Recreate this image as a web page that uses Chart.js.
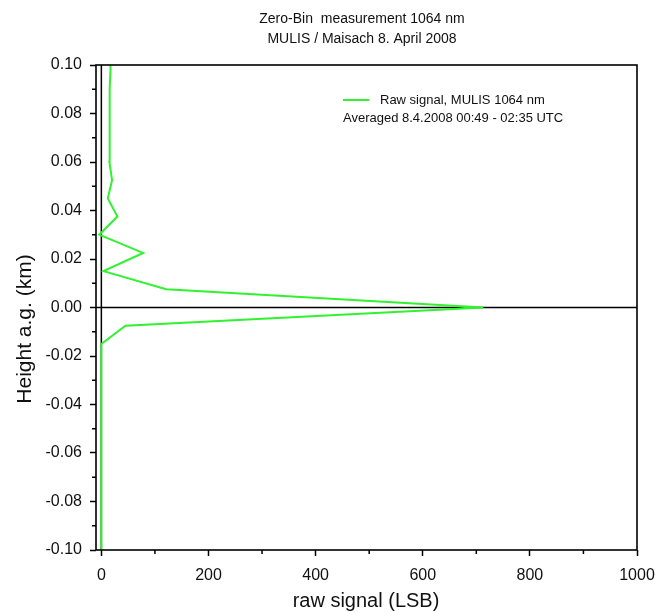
<!DOCTYPE html>
<html>
<head>
<meta charset="utf-8">
<script src="https://cdn.jsdelivr.net/npm/chart.js@4"></script>
<style>
  body { margin: 0; background: #fff; }
  #wrap { width: 656px; height: 612px; }
</style>
</head>
<body>
<div id="wrap"><canvas id="zeroBinChart"></canvas></div>
<script>
// Zero-Bin measurement, raw signal vs height (7.5 m bins)
const heights = [-0.105, -0.0975, -0.09, -0.0825, -0.075, -0.0675, -0.06, -0.0525, -0.045, -0.0375,
  -0.03, -0.0225, -0.015, -0.0075, 0, 0.0075, 0.015, 0.0225, 0.03, 0.0375,
  0.045, 0.0525, 0.06, 0.0675, 0.075, 0.0825, 0.09, 0.0975, 0.105];
const rawSignal = [0, 0, 0, 0, 0, 0, 0, 0, 0, 0,
  0, 0, 0, 45, 713, 121, 4, 78, -4, 30,
  12, 20, 15, 15, 15, 16, 16, 17, 17];

const xTicks = [0, 200, 400, 600, 800, 1000];
const xTickLabels = ["0", "200", "400", "600", "800", "1000"];
const xMinorTicks = [100, 300, 500, 700, 900];
const yTicks = [-0.10, -0.08, -0.06, -0.04, -0.02, 0.00, 0.02, 0.04, 0.06, 0.08, 0.10];
const yTickLabels = ["-0.10", "-0.08", "-0.06", "-0.04", "-0.02", "0.00", "0.02", "0.04", "0.06", "0.08", "0.10"];
const yMinorTicks = [-0.09, -0.07, -0.05, -0.03, -0.01, 0.01, 0.03, 0.05, 0.07, 0.09];

const titleLines = ["Zero-Bin  measurement 1064 nm", "MULIS / Maisach 8. April 2008"];
const seriesLabel = "Raw signal, MULIS 1064 nm";
const averagedNote = "Averaged 8.4.2008 00:49 - 02:35 UTC";
const xTitle = "raw signal (LSB)";
const yTitle = "Height a.g. (km)";

const FONT = "'Liberation Sans', Arial, sans-serif";
const GREEN = "#30f230";

const points = heights.map((h, i) => ({x: rawSignal[i], y: h}));

// frame, zero lines, minor ticks, titles and the little legend
const decorations = {
  id: "decorations",
  beforeDatasetsDraw(chart) {
    const {ctx, chartArea: a, scales} = chart;
    ctx.save();
    ctx.strokeStyle = "#000";
    ctx.lineWidth = 1.5;
    const y0 = scales.y.getPixelForValue(0);
    const x0 = scales.x.getPixelForValue(0);
    ctx.beginPath();
    ctx.moveTo(a.left, y0); ctx.lineTo(a.right, y0);
    ctx.moveTo(x0, a.top); ctx.lineTo(x0, a.bottom);
    ctx.stroke();
    ctx.restore();
  },
  afterDraw(chart) {
    const {ctx, chartArea: a, scales} = chart;
    ctx.save();
    ctx.strokeStyle = "#000";
    ctx.lineWidth = 1.6;
    ctx.strokeRect(a.left, a.top, a.right - a.left, a.bottom - a.top);

    ctx.lineWidth = 1.5;
    ctx.beginPath();
    xMinorTicks.forEach(v => {
      const px = scales.x.getPixelForValue(v);
      ctx.moveTo(px, a.bottom); ctx.lineTo(px, a.bottom + 4);
    });
    yMinorTicks.forEach(v => {
      const py = scales.y.getPixelForValue(v);
      ctx.moveTo(a.left, py); ctx.lineTo(a.left - 4, py);
    });
    ctx.stroke();

    ctx.fillStyle = "#111";
    ctx.textAlign = "center";
    ctx.textBaseline = "middle";
    ctx.font = "14px " + FONT;
    ctx.fillText(titleLines[0], 362, 19);
    ctx.fillText(titleLines[1], 362, 39);

    ctx.font = "20px " + FONT;
    ctx.fillText(xTitle, 366, 601);
    ctx.save();
    ctx.translate(25, 329);
    ctx.rotate(-Math.PI / 2);
    ctx.font = "21px " + FONT;
    ctx.fillText(yTitle, 0, 0);
    ctx.restore();

    // legend
    ctx.strokeStyle = GREEN;
    ctx.lineWidth = 2;
    ctx.beginPath();
    ctx.moveTo(343, 100); ctx.lineTo(369, 100);
    ctx.stroke();
    ctx.textAlign = "left";
    ctx.font = "13px " + FONT;
    ctx.fillText(seriesLabel, 380, 100);
    ctx.fillText(averagedNote, 343, 118);
    ctx.restore();
  }
};

new Chart("zeroBinChart", {
  type: "scatter",
  data: {
    datasets: [{
      label: seriesLabel,
      data: points,
      showLine: true,
      borderColor: GREEN,
      borderWidth: 2,
      pointRadius: 0,
      tension: 0
    }]
  },
  options: {
    responsive: true,
    maintainAspectRatio: false,
    animation: false,
    layout: {
      padding: {top: 65, right: 19, bottom: 0, left: 0}
    },
    scales: {
      x: {
        type: "linear",
        min: -10,
        max: 1000,
        afterBuildTicks: scale => { scale.ticks = xTicks.map(v => ({value: v})); },
        afterFit: scale => { scale.height = 62; scale.paddingLeft = 0; scale.paddingRight = 0; },
        grid: {drawOnChartArea: false, tickLength: 6, tickWidth: 1.5, tickColor: "#000"},
        border: {display: false},
        ticks: {
          padding: 10,
          color: "#111",
          font: {family: FONT, size: 16},
          maxRotation: 0,
          callback: (v, i) => xTickLabels[i]
        }
      },
      y: {
        type: "linear",
        min: -0.10,
        max: 0.10,
        afterBuildTicks: scale => { scale.ticks = yTicks.map(v => ({value: v})); },
        afterFit: scale => { scale.width = 96; scale.paddingTop = 0; scale.paddingBottom = 0; },
        grid: {drawOnChartArea: false, tickLength: 6, tickWidth: 1.5, tickColor: "#000"},
        border: {display: false},
        ticks: {
          padding: 8,
          color: "#111",
          font: {family: FONT, size: 16},
          callback: (v, i) => yTickLabels[i]
        }
      }
    },
    plugins: {
      legend: {display: false},
      tooltip: {enabled: false}
    }
  },
  plugins: [decorations]
});
</script>
</body>
</html>
